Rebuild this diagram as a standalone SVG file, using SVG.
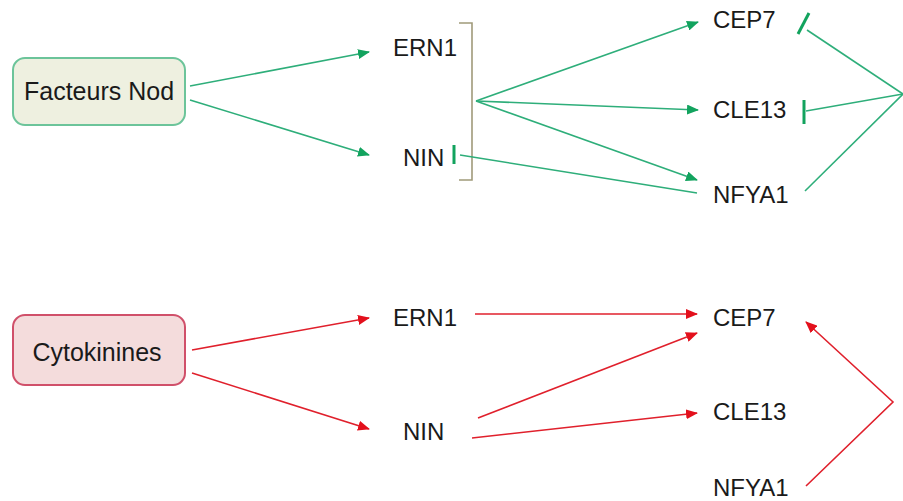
<svg xmlns="http://www.w3.org/2000/svg" width="903" height="501" viewBox="0 0 903 501">
<style>
text{font-family:"Liberation Sans",Arial,sans-serif;font-size:24px;fill:#1a1a1a}
.big{font-size:25px}
.g{stroke:#2eae7a;stroke-width:1.6;fill:none}
.r{stroke:#e0202c;stroke-width:1.6;fill:none}
.bar{stroke:#12a35e;stroke-width:3;fill:none}
</style>
<defs>
<marker id="ag" markerWidth="12" markerHeight="10" refX="11" refY="5" orient="auto" markerUnits="userSpaceOnUse"><path d="M0,0 L12,5 L0,10 Z" fill="#12a35e"/></marker>
<marker id="ar" markerWidth="12" markerHeight="10" refX="11" refY="5" orient="auto" markerUnits="userSpaceOnUse"><path d="M0,0 L12,5 L0,10 Z" fill="#e3101c"/></marker>
</defs>
<rect width="903" height="501" fill="#ffffff"/>
<g id="facteurs">
<rect x="13" y="58" width="172" height="67" rx="12" fill="#eef0e0" stroke="#6cc49a" stroke-width="2"/>
<text class="big" x="99" y="100" text-anchor="middle">Facteurs Nod</text>
</g>
<g id="ern1-top"><text x="393" y="56">ERN1</text></g>
<g id="nin-top"><text x="403" y="166">NIN</text></g>
<g id="cep7-top"><text x="713" y="28">CEP7</text></g>
<g id="cle13-top"><text x="713" y="118">CLE13</text></g>
<g id="nfya1-top"><text x="713" y="203">NFYA1</text></g>
<g id="cytokinines">
<rect x="13" y="315" width="172" height="70" rx="12" fill="#f4dcdc" stroke="#d0506a" stroke-width="2"/>
<text class="big" x="97" y="361" text-anchor="middle">Cytokinines</text>
</g>
<g id="ern1-bot"><text x="393" y="326">ERN1</text></g>
<g id="nin-bot"><text x="403" y="440">NIN</text></g>
<g id="cep7-bot"><text x="713" y="326">CEP7</text></g>
<g id="cle13-bot"><text x="713" y="420">CLE13</text></g>
<g id="nfya1-bot"><text x="713" y="496">NFYA1</text></g>
<g id="connectors">
<line class="g" x1="190" y1="86" x2="369" y2="52" marker-end="url(#ag)"/>
<line class="g" x1="190" y1="100" x2="369" y2="155" marker-end="url(#ag)"/>
<line class="bar" x1="454" y1="145" x2="454" y2="164"/>
<path d="M459,23 L472,23 L472,180 L459,180" fill="none" stroke="#a09a7a" stroke-width="1.6"/>
<line class="g" x1="476" y1="101" x2="698" y2="22" marker-end="url(#ag)"/>
<line class="g" x1="476" y1="101" x2="698" y2="110" marker-end="url(#ag)"/>
<line class="g" x1="476" y1="101" x2="697" y2="180" marker-end="url(#ag)"/>
<line class="g" x1="460" y1="155" x2="697" y2="193"/>
<line class="g" x1="807" y1="30" x2="903" y2="94"/>
<line class="bar" x1="798" y1="34" x2="809" y2="13"/>
<line class="g" x1="806" y1="111" x2="903" y2="94"/>
<line class="bar" x1="804" y1="100" x2="804" y2="124"/>
<line class="g" x1="805" y1="191" x2="903" y2="94"/>
<line class="r" x1="192" y1="350" x2="369" y2="318" marker-end="url(#ar)"/>
<line class="r" x1="192" y1="373" x2="369" y2="429" marker-end="url(#ar)"/>
<line class="r" x1="475" y1="314" x2="697" y2="314" marker-end="url(#ar)"/>
<line class="r" x1="478" y1="418" x2="697" y2="333" marker-end="url(#ar)"/>
<line class="r" x1="472" y1="438" x2="697" y2="413" marker-end="url(#ar)"/>
<polyline class="r" points="806,486 893,402 806,322" marker-end="url(#ar)"/>
</g>
</svg>
